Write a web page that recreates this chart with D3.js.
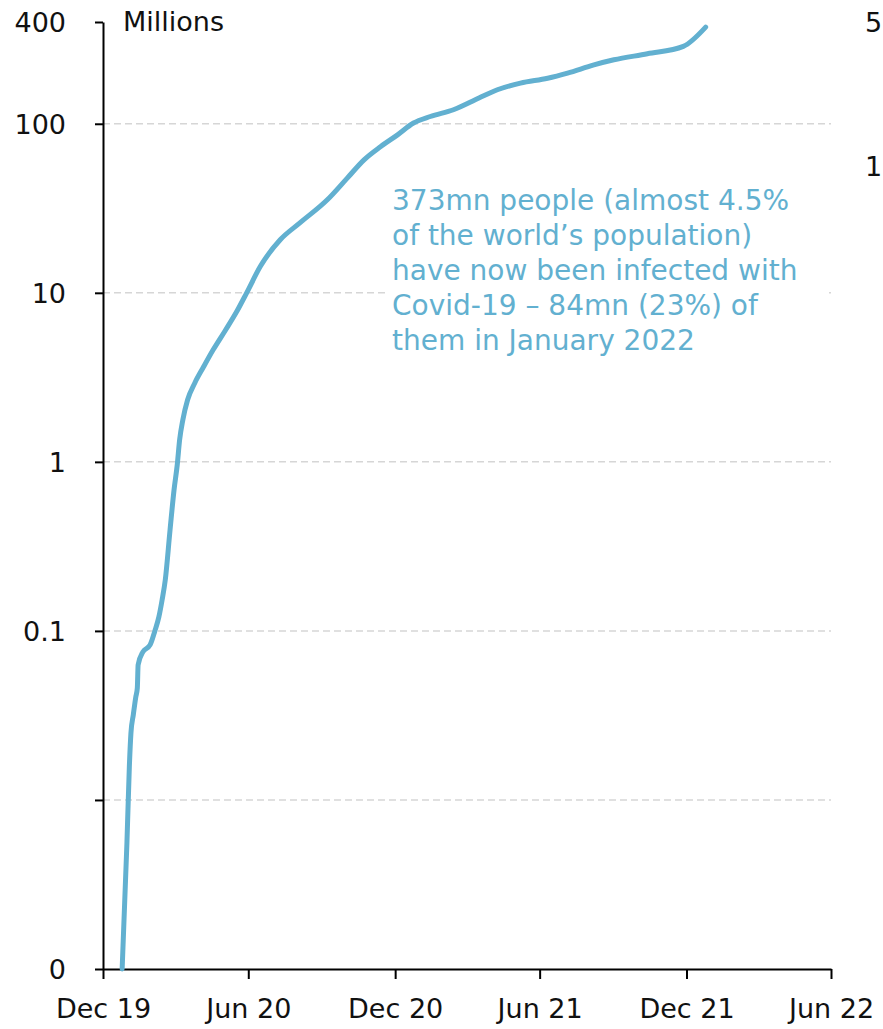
<!DOCTYPE html>
<html>
<head>
<meta charset="utf-8">
<script src="https://cdn.jsdelivr.net/npm/d3@7"></script>
<style>
  html, body { margin: 0; padding: 0; background: #fff; }
  svg { display: block; font-family: "DejaVu Sans", "Noto Sans", sans-serif; }
</style>
</head>
<body>
<svg id="chart" width="883" height="1029"></svg>
<script>
// Cumulative confirmed Covid-19 cases worldwide, millions (log scale)
const dates = [
  "2020-01-24","2020-01-30","2020-02-02","2020-02-04","2020-02-07","2020-02-10",
  "2020-02-12","2020-02-13","2020-02-19","2020-02-28","2020-03-05","2020-03-10",
  "2020-03-14","2020-03-18","2020-03-24","2020-03-29","2020-04-02","2020-04-05",
  "2020-04-09","2020-04-15","2020-04-24","2020-05-05","2020-05-17","2020-06-01",
  "2020-06-15","2020-06-28","2020-07-15","2020-08-09","2020-09-03","2020-10-07",
  "2020-11-01","2020-11-22","2020-12-13","2021-01-03","2021-01-23","2021-02-13",
  "2021-03-14","2021-04-15","2021-05-08","2021-06-06","2021-07-10","2021-08-04",
  "2021-09-06","2021-10-01","2021-11-12","2021-12-27","2022-01-24"
];
const cases = [
  0.00056, 0.0056, 0.0157, 0.0249, 0.032, 0.0405,
  0.046, 0.063, 0.0752, 0.0826, 0.100, 0.121,
  0.152, 0.20, 0.396, 0.683, 0.96, 1.35,
  1.77, 2.33, 2.93, 3.65, 4.6, 5.97,
  7.67, 10.0, 14.3, 20.6, 26, 35.5,
  47.7, 61.2, 73.4, 86, 101, 110.4,
  121, 142, 159, 174, 186, 199.5,
  223, 239, 259.5, 287, 373
];

const yTickValues = [0.001, 0.01, 0.1, 1, 10, 100, 400];
const yTickLabels = ["0", "", "0.1", "1", "10", "100", "400"];
const gridValues = [0.01, 0.1, 1, 10, 100];

const xTickDates = ["2019-12-31","2020-06-30","2020-12-31","2021-06-30","2021-12-31","2022-06-30"];
const xTickLabels = ["Dec 19","Jun 20","Dec 20","Jun 21","Dec 21","Jun 22"];

const noteLines = [
  "373mn people (almost 4.5%",
  "of the world\u2019s population)",
  "have now been infected with",
  "Covid-19 \u2013 84mn (23%) of",
  "them in January 2022"
];

const parse = d3.utcParse("%Y-%m-%d");
const series = dates.map((d, i) => ({ date: parse(d), value: cases[i] }));

const svg = d3.select("#chart");
const plotLeft = 103, plotRight = 831, plotTop = 22, plotBottom = 969;
const lineColor = "#62b0d0";

const x = d3.scaleUtc()
  .domain([parse(xTickDates[0]), parse(xTickDates[xTickDates.length - 1])])
  .range([plotLeft, plotRight]);
const y = d3.scaleLog()
  .domain([0.001, 400])
  .range([plotBottom, plotTop])
  .clamp(true);

// dashed horizontal gridlines
svg.append("g")
  .selectAll("line")
  .data(gridValues)
  .join("line")
  .attr("x1", plotLeft)
  .attr("x2", plotRight)
  .attr("y1", d => y(d))
  .attr("y2", d => y(d))
  .attr("stroke", "#d6d6d6")
  .attr("stroke-width", 1.5)
  .attr("stroke-dasharray", "7,4");

// annotation backdrop covers the grid behind the text
const noteX = 392, noteY = 210, noteStep = 35;
svg.append("rect")
  .attr("x", 386)
  .attr("y", 180)
  .attr("width", 440)
  .attr("height", 182)
  .attr("fill", "#fff");

// y axis
const yAxis = d3.axisLeft(y)
  .tickValues(yTickValues)
  .tickFormat((d, i) => yTickLabels[i])
  .tickSizeOuter(0)
  .tickSizeInner(8)
  .tickPadding(29);
const gy = svg.append("g")
  .attr("transform", `translate(${plotLeft},0)`)
  .call(yAxis);
gy.select(".domain").attr("stroke", "#000").attr("stroke-width", 2);
gy.selectAll(".tick line").attr("stroke", "#000").attr("stroke-width", 2);
gy.selectAll(".tick text")
  .attr("fill", "#111")
  .style("font-family", "DejaVu Sans")
  .style("font-size", "27px")
  .attr("dy", "0.36em");

// x axis
const xAxis = d3.axisBottom(x)
  .tickValues(xTickDates.map(parse))
  .tickFormat((d, i) => xTickLabels[i])
  .tickSizeOuter(0)
  .tickSizeInner(10)
  .tickPadding(20);
const gx = svg.append("g")
  .attr("transform", `translate(0,${plotBottom})`)
  .call(xAxis);
gx.select(".domain").attr("stroke", "#000").attr("stroke-width", 2);
gx.selectAll(".tick line").attr("stroke", "#000").attr("stroke-width", 2);
gx.selectAll(".tick text")
  .attr("fill", "#111")
  .style("font-family", "DejaVu Sans")
  .style("font-size", "27px");

// unit label
svg.append("text")
  .attr("x", 123)
  .attr("y", 31)
  .attr("fill", "#111")
  .style("font-size", "27px")
  .text("Millions");

// cumulative cases line
const line = d3.line()
  .x(d => x(d.date))
  .y(d => y(d.value))
  .curve(d3.curveMonotoneX);
svg.append("path")
  .datum(series)
  .attr("d", line)
  .attr("fill", "none")
  .attr("stroke", lineColor)
  .attr("stroke-width", 5)
  .attr("stroke-linecap", "round")
  .attr("stroke-linejoin", "round");

// annotation text
svg.append("text")
  .attr("fill", lineColor)
  .style("font-size", "28px")
  .selectAll("tspan")
  .data(noteLines)
  .join("tspan")
  .attr("x", noteX)
  .attr("y", (d, i) => noteY + i * noteStep)
  .text(d => d);

// edge of the neighbouring panel's axis labels
svg.append("g")
  .attr("fill", "#111")
  .style("font-size", "27px")
  .selectAll("text")
  .data([{ t: "5", yy: 32 }, { t: "1", yy: 176 }])
  .join("text")
  .attr("x", 865)
  .attr("y", d => d.yy)
  .text(d => d.t);
</script>
</body>
</html>
